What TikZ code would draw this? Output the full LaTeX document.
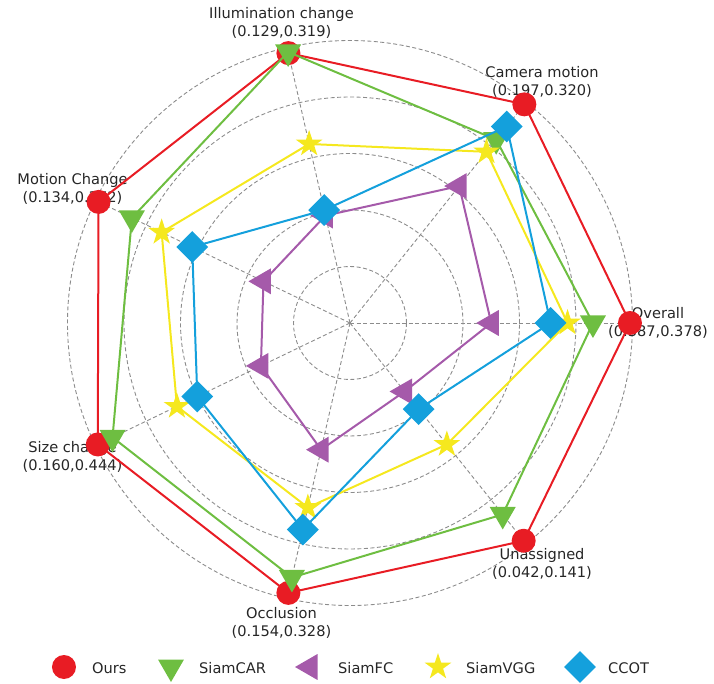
\documentclass[tikz,border=0pt]{standalone}
\usepackage{fontspec}
\setmainfont{DejaVu Sans}
\usetikzlibrary{shapes.geometric}
\definecolor{oursred}{RGB}{232,28,36}
\definecolor{cargreen}{RGB}{110,190,65}
\definecolor{fcpurple}{RGB}{165,90,170}
\definecolor{vggyellow}{RGB}{245,232,30}
\definecolor{ccotblue}{RGB}{20,160,220}
\begin{document}
\begin{tikzpicture}[x=1pt, y=1pt,
        grid/.style={draw=black!45, line width=0.9pt, dash pattern=on 4pt off 2.5pt},
        lab/.style={align=center, inner sep=0pt, text=black!85, font=\fontsize{14.6}{18}\selectfont},
        legtext/.style={anchor=west, inner sep=0pt, text=black!85, font=\fontsize{14.6}{18}\selectfont},
        ours line/.style={draw=oursred, line width=2pt},
        car line/.style={draw=cargreen, line width=2pt},
        fc line/.style={draw=fcpurple, line width=2pt},
        vgg line/.style={draw=vggyellow, line width=2pt},
        ccot line/.style={draw=ccotblue, line width=2pt},
        ours mark/.style={circle, fill=oursred, inner sep=0pt, minimum size=24pt},
        car mark/.style={regular polygon, regular polygon sides=3, shape border rotate=180, fill=cargreen, inner sep=0pt, minimum size=30pt},
        fc mark/.style={regular polygon, regular polygon sides=3, shape border rotate=90, fill=fcpurple, inner sep=0pt, minimum size=30pt},
        vgg mark/.style={star, star points=5, star point ratio=2.618, fill=vggyellow, inner sep=0pt, minimum size=28pt},
        ccot mark/.style={diamond, fill=ccotblue, inner sep=0pt, minimum size=32pt}]
    \useasboundingbox (-350,-361) rectangle (364,323);
    \def\R{282.5}
    % Grid: five dashed rings and seven axes
    \coordinate (c) at (0,0);
    \foreach \k in {1,...,5} \draw[grid] (c) circle ({\k*\R/5});
    \foreach \a in {0,...,6} {
        \coordinate (ax\a) at ({\a*360/7}:\R);
        \draw[grid] (c) -- (ax\a);
    }
    
    % Axis labels
    \node[lab] (l0) at ({0*360/7}:308) {Overall\\(0.387,0.378)};
    \node[lab] (l1) at ({1*360/7}:308) {Camera motion\\(0.197,0.320)};
    \node[lab] (l2) at ({2*360/7}:308) {Illumination change\\(0.129,0.319)};
    \node[lab] (l3) at ({3*360/7}:308) {Motion Change\\(0.134,0.372)};
    \node[lab] (l4) at ({4*360/7}:308) {Size change\\(0.160,0.444)};
    \node[lab] (l5) at ({5*360/7}:308) {Occlusion\\(0.154,0.328)};
    \node[lab] (l6) at ({6*360/7}:308) {Unassigned\\(0.042,0.141)};
    
    % Ours
    \foreach \v [count=\i from 0] in {0.991,0.99,0.98,0.988,0.991,0.98,0.986}
        \coordinate (ours\i) at ({\i*360/7}:{\v*\R});
    \draw[ours line] (ours0) -- (ours1) -- (ours2) -- (ours3) -- (ours4) -- (ours5) -- (ours6) -- cycle;
    \foreach \i in {0,...,6} \node[ours mark] (oursm\i) at (ours\i) {};
    
    % SiamCAR
    \foreach \v [count=\i from 0] in {0.86,0.83,0.984,0.857,0.933,0.924,0.867}
        \coordinate (car\i) at ({\i*360/7}:{\v*\R});
    \draw[car line] (car0) -- (car1) -- (car2) -- (car3) -- (car4) -- (car5) -- (car6) -- cycle;
    \foreach \i in {0,...,6} \node[car mark] (carm\i) at (car\i) {};
    
    % SiamFC
    \foreach \v [count=\i from 0] in {0.50,0.62,0.39,0.34,0.35,0.46,0.31}
        \coordinate (fc\i) at ({\i*360/7}:{\v*\R});
    \draw[fc line] (fc0) -- (fc1) -- (fc2) -- (fc3) -- (fc4) -- (fc5) -- (fc6) -- cycle;
    \foreach \i in {0,...,6} \node[fc mark] (fcm\i) at (fc\i) {};
    
    % SiamVGG
    \foreach \v [count=\i from 0] in {0.77,0.775,0.65,0.74,0.68,0.67,0.55}
        \coordinate (vgg\i) at ({\i*360/7}:{\v*\R});
    \draw[vgg line] (vgg0) -- (vgg1) -- (vgg2) -- (vgg3) -- (vgg4) -- (vgg5) -- (vgg6) -- cycle;
    \foreach \i in {0,...,6} \node[vgg mark] (vggm\i) at (vgg\i) {};
    
    % CCOT
    \foreach \v [count=\i from 0] in {0.71,0.89,0.41,0.62,0.60,0.75,0.39}
        \coordinate (ccot\i) at ({\i*360/7}:{\v*\R});
    \draw[ccot line] (ccot0) -- (ccot1) -- (ccot2) -- (ccot3) -- (ccot4) -- (ccot5) -- (ccot6) -- cycle;
    \foreach \i in {0,...,6} \node[ccot mark] (ccotm\i) at (ccot\i) {};
    
    % Legend
    \node[ours mark] (lg1) at (-286,-344) {};
    \node[legtext] (lt1) at (-258,-345) {Ours};
    \node[car mark] (lg2) at (-179,-344) {};
    \node[legtext] (lt2) at (-151,-345) {SiamCAR};
    \node[fc mark] (lg3) at (-40,-344) {};
    \node[legtext] (lt3) at (-12,-345) {SiamFC};
    \node[vgg mark] (lg4) at (88,-344) {};
    \node[legtext] (lt4) at (116,-345) {SiamVGG};
    \node[ccot mark] (lg5) at (230,-344) {};
    \node[legtext] (lt5) at (258,-345) {CCOT};
\end{tikzpicture}
\end{document}
